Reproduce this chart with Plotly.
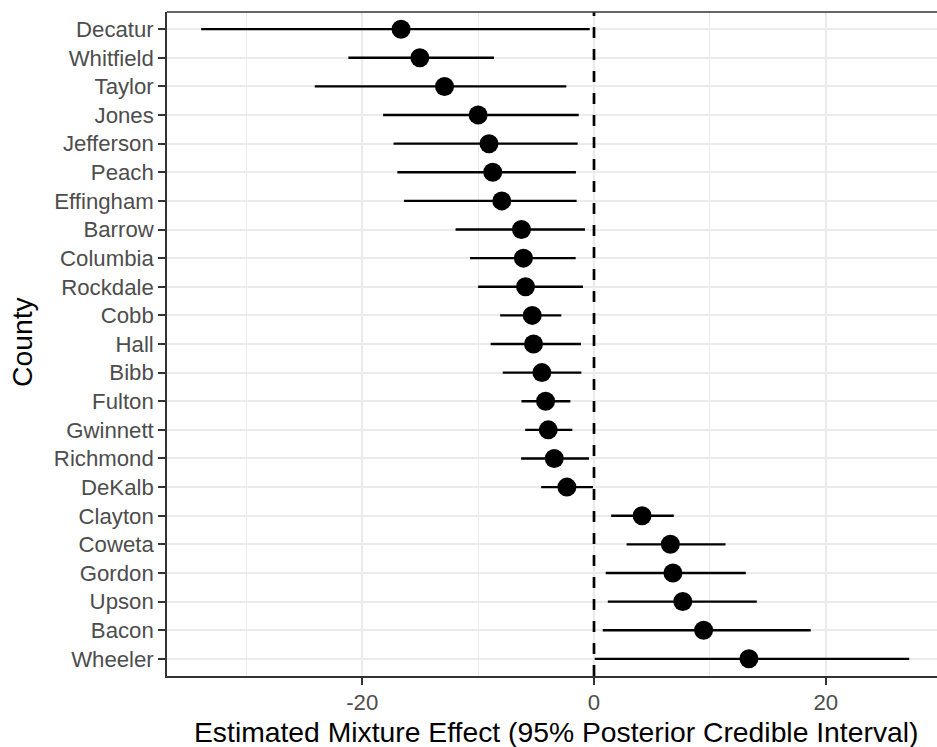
import plotly.graph_objects as go

# County-level mixture effect estimates with 95% posterior credible intervals
counties = ["Decatur", "Whitfield", "Taylor", "Jones", "Jefferson", "Peach", "Effingham",
            "Barrow", "Columbia", "Rockdale", "Cobb", "Hall", "Bibb", "Fulton", "Gwinnett",
            "Richmond", "DeKalb", "Clayton", "Coweta", "Gordon", "Upson", "Bacon", "Wheeler"]
estimate = [-16.65, -15.03, -12.9, -10.0, -9.06, -8.74, -7.96, -6.26, -6.09, -5.91, -5.33,
            -5.22, -4.5, -4.18, -3.95, -3.43, -2.34, 4.15, 6.59, 6.81, 7.66, 9.46, 13.37]
lower = [-33.9, -21.2, -24.1, -18.2, -17.3, -16.97, -16.4, -11.95, -10.7, -10.0, -8.1,
         -8.92, -7.88, -6.26, -5.94, -6.29, -4.56, 1.48, 2.81, 1.01, 1.19, 0.75, 0.06]
upper = [-0.37, -8.63, -2.39, -1.32, -1.41, -1.56, -1.5, -0.78, -1.58, -0.95, -2.82,
         -1.13, -1.09, -2.04, -1.87, -0.43, -0.09, 6.89, 11.35, 13.1, 14.05, 18.7, 27.2]

x_ticks = [-20, 0, 20]
x_tick_labels = ["-20", "0", "20"]
x_title = "Estimated Mixture Effect (95% Posterior Credible Interval)"
y_title = "County"

FONT = "Liberation Sans, Arial, Helvetica, sans-serif"
TICK_FONT = dict(size=22.2, color="#4D4D4D", family=FONT)
TITLE_FONT = dict(size=28.3, color="black", family=FONT)
AXIS_COLOR = "#333333"
GRID_COLOR = "#EBEBEB"

fig = go.Figure()

fig.add_trace(go.Scatter(
    x=estimate, y=counties, mode="markers",
    marker=dict(color="black", size=19),
    error_x=dict(type="data", symmetric=False,
                 array=[u - e for u, e in zip(upper, estimate)],
                 arrayminus=[e - l for e, l in zip(estimate, lower)],
                 color="black", thickness=2.4, width=0),
    showlegend=False, hoverinfo="skip",
))

# dashed reference line at zero effect, drawn from the bottom of the panel up
fig.add_shape(type="line", xref="x", yref="paper", x0=0, x1=0, y0=0, y1=1,
              line=dict(color="black", width=2.7, dash="11px,11px"), layer="above")

# top border of the panel
fig.add_shape(type="line", xref="paper", yref="paper", x0=0, x1=1.01, y0=1, y1=1,
              line=dict(color=AXIS_COLOR, width=1.6))

# axis titles
fig.add_annotation(text=x_title, xref="paper", yref="paper", x=0.505, y=-0.0836,
                   xanchor="center", yanchor="middle", showarrow=False, font=TITLE_FONT)
fig.add_annotation(text=y_title, xref="paper", yref="paper", x=-0.1883, y=0.503,
                   xanchor="center", yanchor="middle", textangle=-90, showarrow=False,
                   font=TITLE_FONT)

fig.update_layout(
    width=937, height=747,
    margin=dict(l=167, r=0, t=12, b=71),
    plot_bgcolor="white", paper_bgcolor="white",
    font=dict(family=FONT, color="black"),
    xaxis=dict(
        range=[-36.85, 29.6], tickvals=x_ticks, ticktext=x_tick_labels,
        showgrid=True, gridcolor=GRID_COLOR, gridwidth=2,
        minor=dict(tickvals=[-30, -10, 10], showgrid=True, gridcolor=GRID_COLOR,
                   gridwidth=1.1, ticks=""),
        zeroline=False, showline=True, linecolor=AXIS_COLOR, linewidth=1.6,
        ticks="outside", ticklen=7, tickwidth=1.6, tickcolor=AXIS_COLOR,
        tickfont=TICK_FONT, ticklabelstandoff=-1, automargin=False,
    ),
    yaxis=dict(
        type="category", categoryorder="array", categoryarray=counties,
        range=[len(counties) - 0.4, -0.6],
        showgrid=True, gridcolor=GRID_COLOR, gridwidth=2,
        zeroline=False, showline=True, linecolor=AXIS_COLOR, linewidth=1.6,
        ticks="outside", ticklen=7, tickwidth=1.6, tickcolor=AXIS_COLOR,
        tickfont=TICK_FONT, automargin=False,
    ),
)

fig.write_html("out.html")
